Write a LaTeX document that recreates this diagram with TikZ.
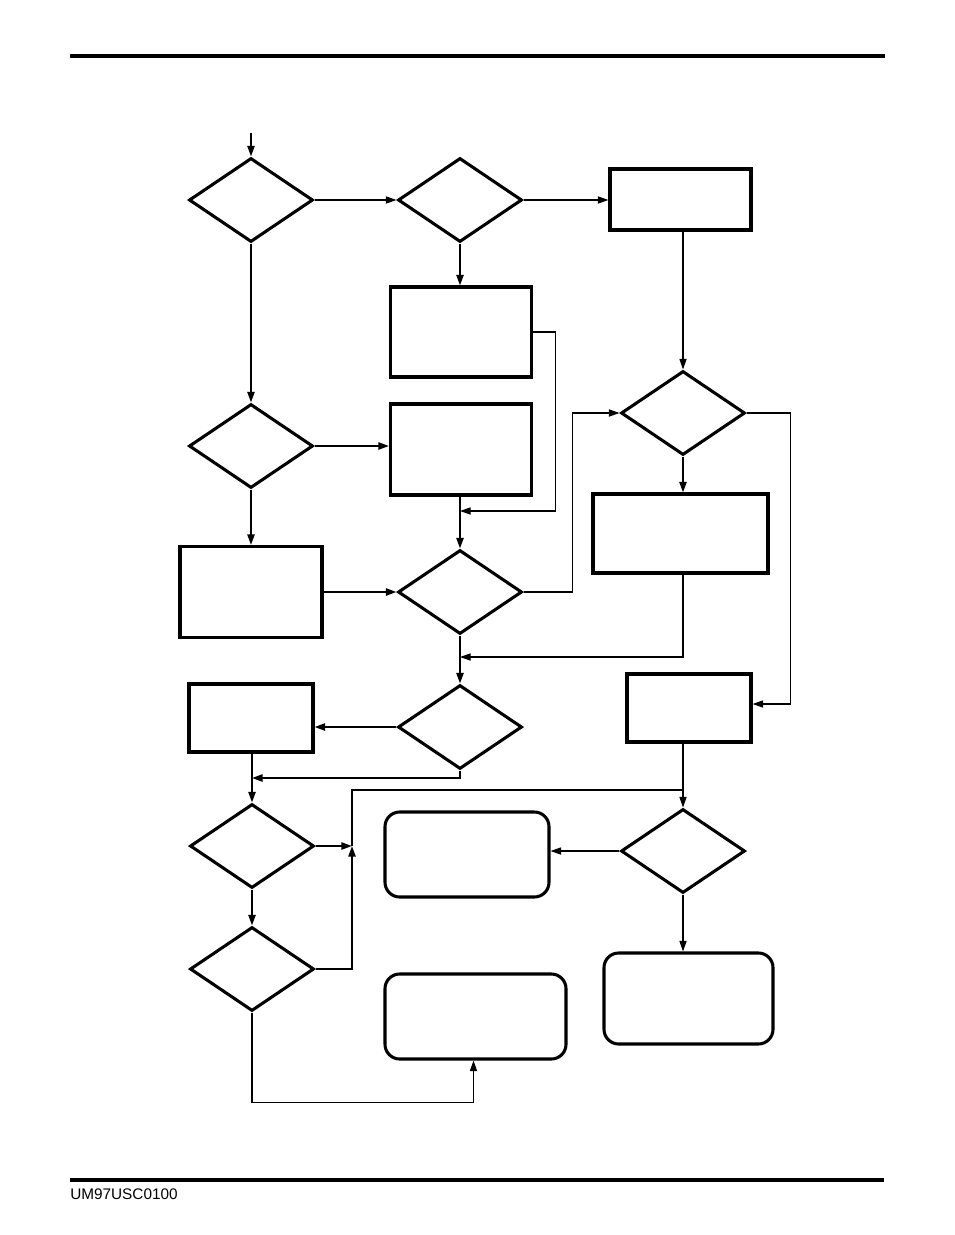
\documentclass[tikz,border=0pt]{standalone}
\usepackage{fontspec}
\setmainfont{Liberation Sans}
\usepackage{tikz}
\usetikzlibrary{shapes.geometric,arrows.meta}

\begin{document}
\begin{tikzpicture}[x=0.75pt,y=0.75pt,yscale=-1,xscale=1,
  dec/.style={draw,diamond,line width=2.3pt,inner sep=0pt,minimum width=93pt,minimum height=63pt},
  box/.style={draw,rectangle,line width=2.3pt,inner sep=0pt},
  term/.style={draw,rectangle,rounded corners=11pt,line width=2.3pt,inner sep=0pt},
  flow/.style={line width=1.5pt,-{Triangle[length=8pt,width=5.4pt]}},
  link/.style={line width=0.8pt,-{Triangle[length=8pt,width=5.4pt]}},
  wire/.style={line width=0.8pt}]
\useasboundingbox (0,0) rectangle (954,1235);

%Rule: header and footer
\draw [line width=2.3pt] (70,56) -- (885,56) ;
\draw [line width=3pt] (70,1180) -- (884,1180) ;
% Text Node
\node (docid) [anchor=north west,inner sep=0pt,font=\fontsize{11.5}{13}\selectfont] at (70,1189) {UM97USC0100};

%Shape: decisions
\node (d1) [dec] at (251,200) {};
\node (d2) [dec] at (460,200) {};
\node (d3) [dec] at (251,446) {};
\node (d4) [dec] at (460,592) {};
\node (d5) [dec] at (683,413) {};
\node (d6) [dec] at (460,727) {};
\node (d7) [dec] at (252,846) {};
\node (d8) [dec] at (252,969) {};
\node (d9) [dec] at (683,851) {};

%Shape: process boxes
\node (b1) [box,minimum width=105.75pt,minimum height=45.75pt] at (680.5,199.5) {};
\node (b2) [box,minimum width=105.75pt,minimum height=67.5pt] at (461,332) {};
\node (b3) [box,minimum width=105.75pt,minimum height=68.25pt] at (461,449.5) {};
\node (b4) [box,minimum width=106.5pt,minimum height=68.25pt] at (251,592) {};
\node (b5) [box,minimum width=131.25pt,minimum height=59.25pt] at (680.5,533.5) {};
\node (b6) [box,minimum width=93pt,minimum height=51pt] at (689,708) {};
\node (b7) [box,minimum width=93pt,minimum height=51pt] at (251,718) {};

%Shape: end boxes
\node (t1) [term,minimum width=123pt,minimum height=63.75pt] at (467,854.5) {};
\node (t2) [term,minimum width=135.75pt,minimum height=63.75pt] at (475.5,1016.5) {};
\node (t3) [term,minimum width=126.75pt,minimum height=68.25pt] at (688.5,998.5) {};

%Junctions
\coordinate (in) at (251,133);
\coordinate (m1) at (460,511);
\coordinate (m2) at (460,657);
\coordinate (m3) at (252,778);
\coordinate (m4) at (352,846);

%Connectors
\draw [flow] (in) -- (d1.north) ;
\draw [link] (d1.east) -- (d2.west) ;
\draw [link] (d2.east) -- (d2.east -| b1.west) ;
\draw [flow] (d2.south) -- (d2.south |- b2.north) ;
\draw [link] (b2.east) -- ++(22,0) |- (m1) ;
\draw [flow] (d1.south) -- (d3.north) ;
\draw [flow] (d3.east) -- (d3.east -| b3.west) ;
\draw [flow] (d4.north |- b3.south) -- (d4.north) ;
\draw [flow] (d3.south) -- (b4.north) ;
\draw [flow] (b4.east) -- (d4.west) ;
\draw [link] (d4.east) -- ++(49,0) |- (d5.west) ;
\draw [link] (b1.south -| d5.north) -- (d5.north) ;
\draw [link] (d5.east) -- ++(44,0) |- ([yshift=-3]b6.east) ;
\draw [flow] (d5.south) -- (d5.south |- b5.north) ;
\draw [link] (b5.south -| d5.south) |- (m2) ;
\draw [flow] (d4.south) -- (d6.north) ;
\draw [flow] (d6.west) -- (d6.west -| b7.east) ;
\draw [flow] (d6.south) |- (m3) ;
\draw [flow] (b7.south -| m3) -- (d7.north) ;
\draw [flow] (d7.south) -- (d8.north) ;
\draw [flow] (d7.east) -- (m4) ;
\draw [flow] (d8.east) -| (m4) ;
\draw [wire] (m4) |- (683,790) ;
\draw [link] (b6.south -| d9.north) -- (d9.north) ;
\draw [link] (d9.west) -- (d9.west -| t1.east) ;
\draw [link] (d9.south) -- (d9.south |- t3.north) ;
\draw [link] (d8.south) -- ++(0,90) -| ([xshift=-1.5]t2.south) ;

\end{tikzpicture}
\end{document}
